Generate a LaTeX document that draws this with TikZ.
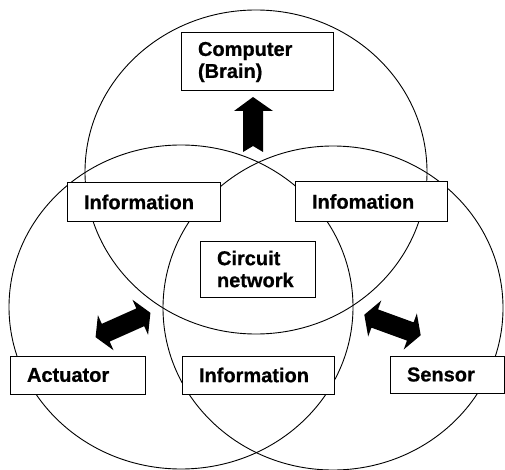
\documentclass[tikz,border=0pt]{standalone}
\usepackage{fontspec}
\setmainfont[BoldFeatures={FakeBold=0.8}]{Liberation Sans}
\usetikzlibrary{shapes.arrows}

\begin{document}
\begin{tikzpicture}[%
    x=1pt, y=-1pt,
    ring/.style={draw, line width=0.9pt},
    infobox/.style={draw, fill=white, line width=1pt, align=left,
      inner xsep=17pt, inner ysep=0pt, text width=#1,
      font=\bfseries\fontsize{20}{22}\selectfont},
    fatarrow/.style={double arrow, fill=black, inner xsep=0pt,
      inner ysep=9.5pt, minimum height=60pt,
      double arrow head extend=9.5pt, double arrow tip angle=120}
  ]
  \useasboundingbox (0,0) rectangle (505,470);

  % the three circles
  \draw[ring] (256,172) ellipse [x radius=171, y radius=162];
  \draw[ring] (181,307) ellipse [x radius=172, y radius=162];
  \draw[ring] (333,308) ellipse [x radius=170, y radius=162];

  % boxes
  \node[infobox=118pt, minimum height=58pt] (brain) at (257,62) {Computer\\(Brain)};
  \node[infobox=119pt, minimum height=38pt] (infoL) at (143.5,202) {Information};
  \node[infobox=118pt, minimum height=39pt] (infoR) at (371,201.5) {Infomation};
  \node[infobox=81pt, minimum height=56pt] (circuit) at (257.5,269) {Circuit\\network};
  \node[infobox=101pt, minimum height=38pt] (actuator) at (77.5,375) {Actuator};
  \node[infobox=118pt, minimum height=38pt] (infoB) at (258,375) {Information};
  \node[infobox=80pt, minimum height=37pt] (sensor) at (447,374.5) {Sensor};

  % fat arrows
  \fill (253,97) -- (273,111) -- (263,111) -- (263,152) -- (253,146)
    -- (243,152) -- (243,111) -- (234,111) -- cycle;
  \node[fatarrow, rotate=24] (actArrow) at (123,325) {};
  \node[fatarrow, rotate=-20] (senArrow) at (392.5,325) {};

\end{tikzpicture}
\end{document}
